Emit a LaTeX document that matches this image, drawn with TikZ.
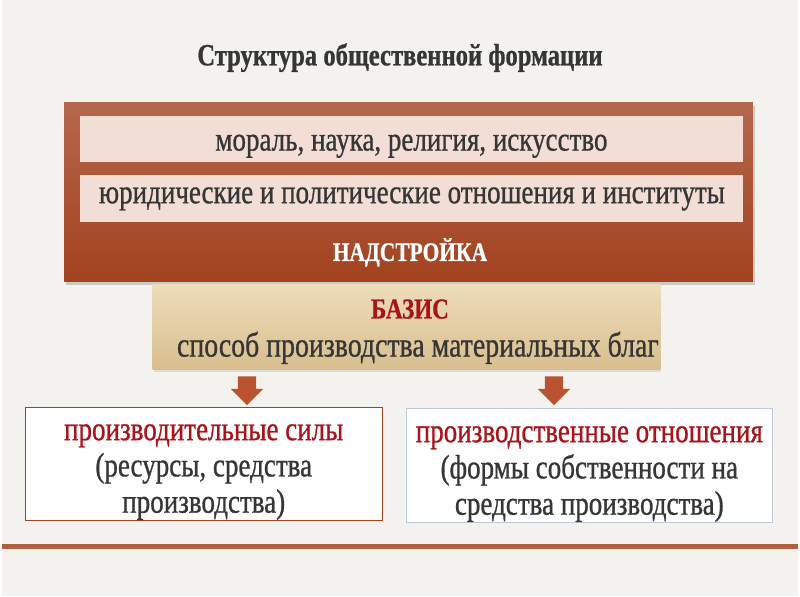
\documentclass[tikz,border=0pt]{standalone}
\usepackage{fontspec}
\setmainfont[FakeStretch=0.8, FakeBold=0.8]{Liberation Serif}
\usetikzlibrary{shadows,shapes.arrows}

\definecolor{fon}{HTML}{F4F2EE}
\definecolor{tekst}{HTML}{363636}
\definecolor{krasn}{HTML}{A8141C}
\definecolor{nadTop}{HTML}{B5674C}
\definecolor{nadBot}{HTML}{A2421F}
\definecolor{rozov}{HTML}{F3DED6}
\definecolor{bazTop}{HTML}{EEDDBA}
\definecolor{bazBot}{HTML}{D8BE8E}
\definecolor{strelka}{HTML}{BA5430}
\definecolor{liniya}{HTML}{B0603A}
\definecolor{goluboy}{HTML}{BCCBDA}

\tikzset{
  sloy/.style={fill=rozov, minimum width=667, minimum height=47, inner sep=0,
    text depth=2, text=tekst, font=\fontsize{34}{36}\selectfont},
  ramka/.style={fill=white, inner sep=0},
  nadpis/.style={align=center, text=tekst, font=\fontsize{34}{36.5}\selectfont},
  vniz/.style={single arrow, shape border rotate=270, fill=strelka, inner xsep=9,
    inner ysep=0, minimum height=29, single arrow head extend=7,
    single arrow head indent=0}
}

\begin{document}
\begin{tikzpicture}[x=1pt, y=-1pt]
\fill[fon] (0,0) rectangle (800,600);

\node[text=tekst, font=\bfseries\fontsize{31}{34}\selectfont] (titul) at (400,58)
  {Структура общественной формации};

% надстройка
\node[top color=nadTop, bottom color=nadBot, minimum width=693, minimum height=180,
  inner sep=0, drop shadow={shadow xshift=2pt, shadow yshift=-4pt, opacity=0.35}]
  (nadstr) at (408.5,193) {};
\node[sloy, text height=25] (moral) at (411.5,140) {мораль, наука, религия, искусство};
\node[sloy, text height=12] (pravo) at (412,199.5) {юридические и политические отношения и институты};
\node[text=white, font=\bfseries\fontsize{27}{30}\selectfont] (nadp) at (410,254)
  {НАДСТРОЙКА};

% базис
\node[top color=bazTop, bottom color=bazBot, minimum width=511, minimum height=86,
  inner sep=0, drop shadow={shadow xshift=1pt, shadow yshift=-2pt, opacity=0.2}]
  (bazis) at (406.5,329) {};
\node[text=krasn, font=\bfseries\fontsize{29}{32}\selectfont] (bazisT) at (410,311)
  {БАЗИС};
\node[text=tekst, font=\fontsize{35}{40}\selectfont] (sposob) at (418,350)
  {способ производства материальных благ};

\node[vniz] (str1) at (246,388.5) {};
\node[vniz] (str2) at (555,388.5) {};

\node[ramka, draw=nadBot, minimum width=359, minimum height=113] (sily) at (202.5,466.5) {};
\node[nadpis] (silyT) at (202.5,475)
  {\textcolor{krasn}{производительные силы}\\(ресурсы, средства\\производства)};
\node[ramka, draw=goluboy, minimum width=369, minimum height=114] (otnosh) at (590.5,468) {};
\node[nadpis] (otnoshT) at (590.5,477)
  {\textcolor{krasn}{производственные отношения}\\(формы собственности на\\средства производства)};

\draw[liniya, line width=5] (0,549.5) -- (800,549.5);
\end{tikzpicture}
\end{document}
